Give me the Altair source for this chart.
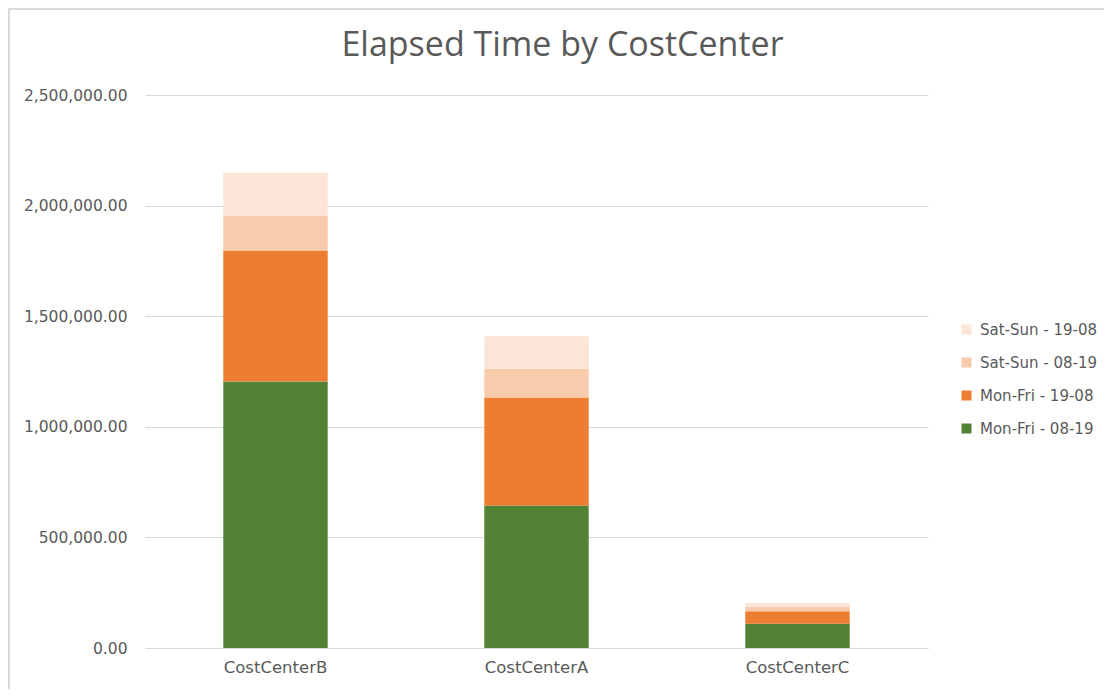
import altair as alt
import pandas as pd

categories = ["CostCenterB", "CostCenterA", "CostCenterC"]
series = ["Mon-Fri - 08-19", "Mon-Fri - 19-08", "Sat-Sun - 08-19", "Sat-Sun - 19-08"]
mon_fri_08_19 = [1205000, 644000, 110000]
mon_fri_19_08 = [592000, 489000, 56000]
sat_sun_08_19 = [158000, 128000, 21000]
sat_sun_19_08 = [193000, 148000, 18000]
colors = ["#548235", "#ED7D31", "#F8CBAD", "#FBE5D6"]
y_ticks = [0, 500000, 1000000, 1500000, 2000000, 2500000]

values = [mon_fri_08_19, mon_fri_19_08, sat_sun_08_19, sat_sun_19_08]
rows = []
for si, (s, vals) in enumerate(zip(series, values)):
    for c, v in zip(categories, vals):
        rows.append({"cat": c, "series": s, "value": v, "ord": si})
df = pd.DataFrame(rows)

legend_order = series[::-1]
color_order = colors[::-1]

FONT = "DejaVu Sans"
GRAY = "#595959"

bars = alt.Chart(df).mark_bar().encode(
    x=alt.X("cat:N", sort=categories, title=None,
            scale=alt.Scale(paddingInner=0.6, paddingOuter=0.3),
            axis=alt.Axis(labelAngle=0, ticks=False, domain=True, domainColor="#D9D9D9",
                          domainWidth=1, labelFont=FONT, labelFontSize=16.5,
                          labelColor=GRAY, labelPadding=11, grid=False)),
    y=alt.Y("value:Q", stack="zero", title=None,
            scale=alt.Scale(domain=[0, 2500000], nice=False),
            axis=alt.Axis(values=y_ticks, format=",.2f", ticks=False, domain=False,
                          grid=True, gridColor="#D9D9D9", gridWidth=1,
                          labelFont=FONT, labelFontSize=15.5, labelColor=GRAY,
                          labelPadding=18)),
    color=alt.Color("series:N", title=None,
                    scale=alt.Scale(domain=legend_order, range=color_order),
                    legend=alt.Legend(orient="none", legendX=814, legendY=227,
                                      symbolType="square", symbolSize=100,
                                      symbolStrokeWidth=0, labelFont=FONT,
                                      labelFontSize=15, labelColor=GRAY,
                                      labelOffset=6, rowPadding=17, padding=0)),
    order=alt.Order("ord:Q", sort="ascending"),
)

one = pd.DataFrame({"a": [0]})
border_left = alt.Chart(one).mark_rule(color="#D9D9D9", strokeWidth=2).encode(
    x=alt.value(-136), y=alt.value(-87), y2=alt.value(594))
border_top = alt.Chart(one).mark_rule(color="#D9D9D9", strokeWidth=2).encode(
    x=alt.value(-137), x2=alt.value(959), y=alt.value(-86))

chart = alt.layer(bars, border_left, border_top).properties(
    width=783, height=553,
    background="white",
    title=alt.TitleParams("Elapsed Time by CostCenter", font="Open Sans",
                          fontSize=34, fontWeight="normal", color=GRAY,
                          anchor="middle", frame="group", dx=26, offset=0,
                          baseline="bottom", dy=90),
    autosize=alt.AutoSizeParams(type="none"),
    padding={"left": 137, "top": 87, "right": 176, "bottom": 41},
).configure_view(stroke="transparent", strokeWidth=0)

chart.save("out.html", embed_options={"renderer": "svg", "actions": False})
